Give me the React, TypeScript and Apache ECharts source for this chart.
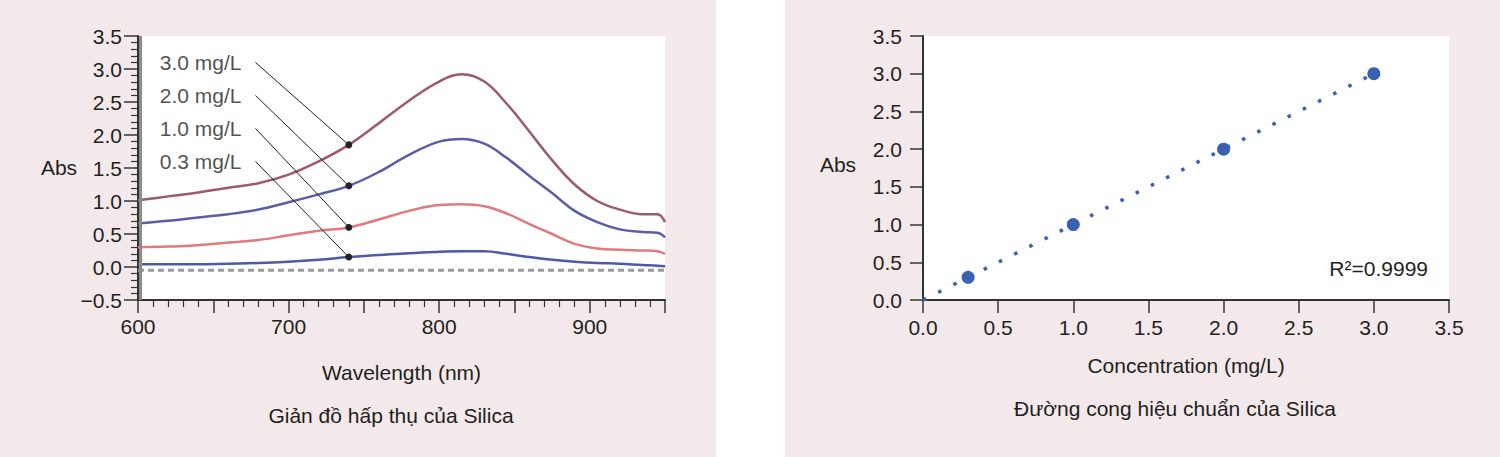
import React, { useEffect, useRef } from "react";
import * as echarts from "echarts";

// ---- Left chart: absorption spectra ----
const wavelengths = [600, 620, 640, 660, 680, 700, 720, 740, 760, 780, 800, 815, 830, 845, 860, 875, 890, 905, 920, 935, 945, 950];
const abs30 = [1.01, 1.07, 1.13, 1.2, 1.27, 1.4, 1.6, 1.85, 2.18, 2.52, 2.81, 2.92, 2.81, 2.47, 2.05, 1.62, 1.25, 1.0, 0.87, 0.8, 0.8, 0.68];
const abs20 = [0.66, 0.7, 0.75, 0.8, 0.87, 0.98, 1.1, 1.23, 1.44, 1.7, 1.9, 1.94, 1.87, 1.65, 1.38, 1.12, 0.85, 0.68, 0.57, 0.53, 0.52, 0.45];
const abs10 = [0.3, 0.31, 0.33, 0.37, 0.41, 0.48, 0.55, 0.6, 0.72, 0.85, 0.94, 0.95, 0.92, 0.81, 0.65, 0.5, 0.35, 0.28, 0.26, 0.25, 0.24, 0.2];
const abs03 = [0.04, 0.04, 0.04, 0.05, 0.06, 0.08, 0.11, 0.15, 0.18, 0.21, 0.23, 0.24, 0.24, 0.2, 0.15, 0.11, 0.08, 0.06, 0.05, 0.03, 0.02, 0.01];
const spectraNames = ["3.0 mg/L", "2.0 mg/L", "1.0 mg/L", "0.3 mg/L"];
const spectraColors = ["#9c5b68", "#5b5ea6", "#e07a7c", "#4d5aa8"];
const markerWavelength = 740;
const markerValues = [1.85, 1.23, 0.6, 0.15];
const labelAnchorWavelength = 678;
const labelAnchorValues = [3.1, 2.6, 2.1, 1.6];
const baselineValue = -0.05;
const leftYMin = -0.5;
const leftYMax = 3.5;
const leftXMin = 600;
const leftXMax = 950;

// ---- Right chart: calibration curve ----
const concentrations = [0.3, 1.0, 2.0, 3.0];
const absorbances = [0.3, 1.0, 2.0, 3.0];
const fitX = [0, 3.0];
const fitY = [0, 3.0];
const rSquared = "R²=0.9999";
const rightMax = 3.5;

const FONT = "'Liberation Sans', Arial, Helvetica, sans-serif";
const TEXT = "#231f20";
const PINK = "#f3e9eb";

export default function App() {
  const ref = useRef<HTMLDivElement>(null);

  useEffect(() => {
    if (!ref.current) return;
    const chart = echarts.init(ref.current, undefined, { renderer: "svg" });
    const spectra = [abs30, abs20, abs10, abs03];

    const axisLineStyle = { color: "#333", width: 2 };
    const fmt1 = (v: number) => (v < 0 ? "−" + Math.abs(v).toFixed(1) : v.toFixed(1));

    const option: any = {
      animation: false,
      backgroundColor: PINK,
      textStyle: { fontFamily: FONT, color: TEXT },
      grid: [
        { left: 138, top: 36, width: 527, height: 264, show: true, backgroundColor: "#ffffff", borderWidth: 0 },
        { left: 923, top: 36, width: 526, height: 264, show: true, backgroundColor: "#ffffff", borderWidth: 0 },
      ],
      xAxis: [
        {
          type: "value",
          gridIndex: 0,
          min: leftXMin,
          max: leftXMax,
          interval: 50,
          name: "Wavelength (nm)",
          nameLocation: "middle",
          nameGap: 62,
          nameTextStyle: { fontSize: 21, color: TEXT, fontFamily: FONT },
          axisLine: { show: true, onZero: false, lineStyle: axisLineStyle },
          axisTick: { show: true, length: 13, lineStyle: { color: "#333", width: 1.5 } },
          minorTick: { show: true, splitNumber: 5, length: 7, lineStyle: { color: "#333", width: 1.2 } },
          splitLine: { show: false },
          axisLabel: {
            fontSize: 21,
            color: TEXT,
            fontFamily: FONT,
            margin: 16,
            formatter: (v: number) => (v % 100 === 0 ? String(v) : ""),
          },
        },
        {
          type: "value",
          gridIndex: 1,
          min: 0,
          max: rightMax,
          interval: 0.5,
          name: "Concentration (mg/L)",
          nameLocation: "middle",
          nameGap: 55,
          nameTextStyle: { fontSize: 21, color: TEXT, fontFamily: FONT },
          axisLine: { show: true, onZero: false, lineStyle: axisLineStyle },
          axisTick: { show: true, length: 13, lineStyle: { color: "#333", width: 1.5 } },
          splitLine: { show: false },
          axisLabel: { fontSize: 21, color: TEXT, fontFamily: FONT, margin: 17, formatter: fmt1 },
        },
      ],
      yAxis: [
        {
          type: "value",
          gridIndex: 0,
          min: leftYMin,
          max: leftYMax,
          interval: 0.5,
          axisLine: { show: true, onZero: false, lineStyle: axisLineStyle },
          axisTick: { show: true, length: 14, lineStyle: { color: "#333", width: 1.5 } },
          minorTick: { show: true, splitNumber: 5, length: 7, lineStyle: { color: "#333", width: 1.2 } },
          splitLine: { show: false },
          axisLabel: { fontSize: 21, color: TEXT, fontFamily: FONT, margin: 16, formatter: fmt1 },
        },
        {
          type: "value",
          gridIndex: 1,
          min: 0,
          max: rightMax,
          interval: 0.5,
          axisLine: { show: true, onZero: false, lineStyle: axisLineStyle },
          axisTick: { show: true, length: 13, lineStyle: { color: "#333", width: 1.5 } },
          splitLine: { show: false },
          axisLabel: { fontSize: 21, color: TEXT, fontFamily: FONT, margin: 21, formatter: fmt1 },
        },
      ],
      series: [
        {
          type: "line",
          xAxisIndex: 0,
          yAxisIndex: 0,
          data: [
            [leftXMin, baselineValue],
            [leftXMax, baselineValue],
          ],
          symbol: "none",
          lineStyle: { color: "#9a9a9a", width: 3, type: [6, 4] },
          silent: true,
          z: 1,
        },
        ...spectra.map((vals, i) => ({
          type: "line",
          name: spectraNames[i],
          xAxisIndex: 0,
          yAxisIndex: 0,
          data: wavelengths.map((w, j) => [w, vals[j]]),
          smooth: 0.4,
          symbol: "none",
          lineStyle: { color: spectraColors[i], width: 2.5 },
          z: 2,
          markLine: {
            silent: true,
            symbol: ["circle", "none"],
            symbolSize: 7,
            label: { show: false },
            lineStyle: { color: "#222", width: 1, type: "solid" },
            itemStyle: { color: "#111" },
            data: [
              [
                { coord: [markerWavelength, markerValues[i]] },
                { coord: [labelAnchorWavelength, labelAnchorValues[i]] },
              ],
            ],
          },
        })),
        {
          type: "scatter",
          xAxisIndex: 0,
          yAxisIndex: 0,
          symbolSize: 0,
          silent: true,
          data: labelAnchorValues.map((v, i) => ({ value: [labelAnchorWavelength, v], name: spectraNames[i] })),
          label: {
            show: true,
            position: "left",
            distance: 14,
            formatter: "{b}",
            fontSize: 21,
            color: TEXT,
            fontFamily: FONT,
          },
          z: 5,
        },
        {
          type: "line",
          xAxisIndex: 1,
          yAxisIndex: 1,
          data: fitX.map((x, i) => [x, fitY[i]]),
          symbol: "none",
          lineStyle: { color: "#3a60b2", width: 3.5, type: [3.5, 13.5], cap: "butt" },
          z: 2,
        },
        {
          type: "scatter",
          xAxisIndex: 1,
          yAxisIndex: 1,
          data: concentrations.map((c, i) => [c, absorbances[i]]),
          symbol: "circle",
          symbolSize: 13,
          itemStyle: { color: "#3a60b2", opacity: 1 },
          z: 3,
        },
      ],
      graphic: [
        { type: "rect", shape: { x: 716, y: 0, width: 69, height: 457 }, style: { fill: "#ffffff" }, z: -1, silent: true },
        { type: "rect", shape: { x: 139, y: 36, width: 3, height: 264 }, style: { fill: "#8c8c8c" }, z: 10, silent: true },
        {
          type: "text",
          x: 59,
          y: 167,
          style: { text: "Abs", fontSize: 21, fill: TEXT, fontFamily: FONT, textAlign: "center", textVerticalAlign: "middle" },
          z: 10,
        },
        {
          type: "text",
          x: 838,
          y: 164,
          style: { text: "Abs", fontSize: 21, fill: TEXT, fontFamily: FONT, textAlign: "center", textVerticalAlign: "middle" },
          z: 10,
        },
        {
          type: "text",
          x: 1428,
          y: 268,
          style: { text: rSquared, fontSize: 21, fill: TEXT, fontFamily: FONT, textAlign: "right", textVerticalAlign: "middle" },
          z: 10,
        },
        {
          type: "text",
          x: 391,
          y: 415,
          style: { text: "Giản đồ hấp thụ của Silica", fontSize: 21, fill: TEXT, fontFamily: FONT, textAlign: "center", textVerticalAlign: "middle" },
          z: 10,
        },
        {
          type: "text",
          x: 1175,
          y: 408,
          style: { text: "Đường cong hiệu chuẩn của Silica", fontSize: 21, fill: TEXT, fontFamily: FONT, textAlign: "center", textVerticalAlign: "middle" },
          z: 10,
        },
      ],
    };

    chart.setOption(option);
    return () => chart.dispose();
  }, []);

  return <div ref={ref} style={{ position: "absolute", left: 0, top: 0, width: 1500, height: 457 }} />;
}
